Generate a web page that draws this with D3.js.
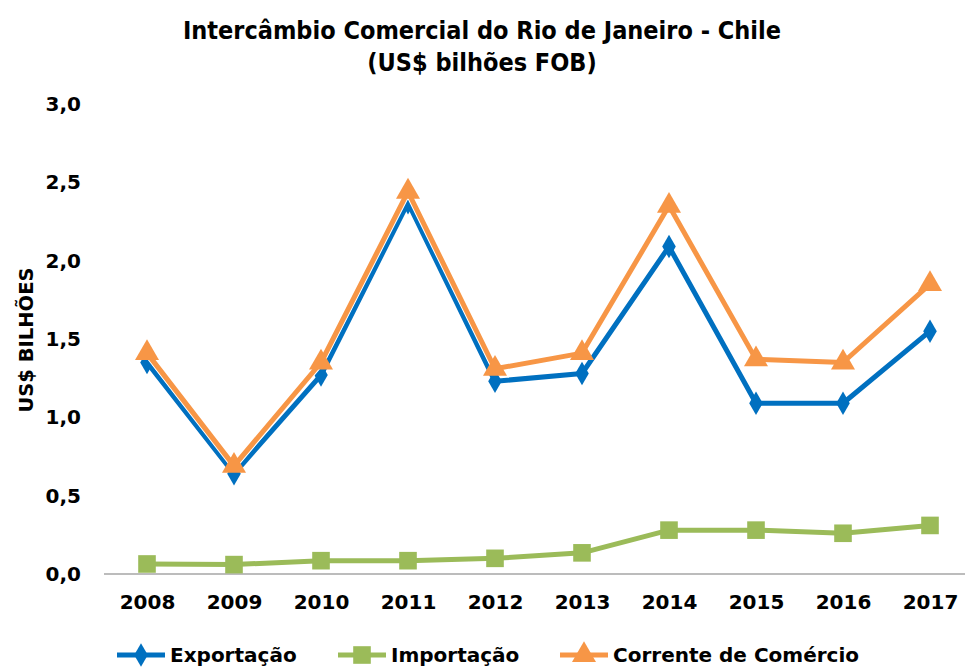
<!DOCTYPE html>
<html>
<head>
<meta charset="utf-8">
<script src="https://cdn.jsdelivr.net/npm/d3@7"></script>
<style>
  body { margin: 0; background: #fff; }
  text { font-family: "DejaVu Sans", Verdana, sans-serif; font-weight: bold; fill: #000; }
</style>
</head>
<body>
<div id="chart"></div>
<script>
const width = 965, height = 668

// data
const years = ["2008", "2009", "2010", "2011", "2012", "2013", "2014", "2015", "2016", "2017"]
const exportacao = [1.35, 0.64, 1.27, 2.37, 1.23, 1.28, 2.09, 1.09, 1.09, 1.55]
const importacao = [0.064, 0.06, 0.085, 0.085, 0.10, 0.135, 0.28, 0.28, 0.26, 0.31]
const corrente = [1.41, 0.69, 1.35, 2.44, 1.31, 1.41, 2.35, 1.37, 1.35, 1.85]
const y_ticks = [0, 0.5, 1.0, 1.5, 2.0, 2.5, 3.0]

const series = [
    {name: "Exportação", values: exportacao, color: "#0070C0", symbol: d3.symbolDiamond, size: 160, legend_x: 117},
    {name: "Importação", values: importacao, color: "#9BBB59", symbol: d3.symbolSquare, size: 310, legend_x: 338},
    {name: "Corrente de Comércio", values: corrente, color: "#F79646", symbol: d3.symbolTriangle, size: 250, legend_x: 560},
]

const svg = d3.select("#chart").append("svg")
    .attr("width", width)
    .attr("height", height)

const x = d3.scalePoint().domain(years).range([147, 930])
const y = d3.scaleLinear().domain([0, 3]).range([574, 104])

// title
const title_font = "'DejaVu Sans Condensed', 'DejaVu Sans', sans-serif"
svg.append("text")
    .attr("x", 482).attr("y", 39)
    .attr("text-anchor", "middle")
    .style("font-family", title_font)
    .style("font-size", "25px")
    .text("Intercâmbio Comercial do Rio de Janeiro - Chile")
svg.append("text")
    .attr("x", 482).attr("y", 71)
    .attr("text-anchor", "middle")
    .style("font-family", title_font)
    .style("font-size", "25px")
    .text("(US$ bilhões FOB)")

// y axis (labels only)
const y_axis = svg.append("g")
    .attr("transform", "translate(81,0)")
    .call(d3.axisLeft(y).tickValues(y_ticks).tickSize(0).tickPadding(0)
        .tickFormat(d => d3.format(".1f")(d).replace(".", ",")))
y_axis.select(".domain").remove()
y_axis.selectAll("text")
    .style("font-size", "20px")
    .style("font-family", "'DejaVu Sans', sans-serif")
    .attr("fill", "#000")

svg.append("text")
    .attr("transform", "translate(26,340) rotate(-90)")
    .attr("text-anchor", "middle")
    .attr("dy", "0.35em")
    .style("font-size", "19.5px")
    .text("US$ BILHÕES")

// x axis
const x_axis = svg.append("g")
    .attr("transform", "translate(0,574)")
    .call(d3.axisBottom(x).tickSize(0).tickPadding(21))
x_axis.select(".domain").remove()
x_axis.selectAll("text")
    .style("font-size", "20px")
    .style("font-family", "'DejaVu Sans', sans-serif")
    .attr("fill", "#000")
svg.append("line")
    .attr("x1", 104).attr("x2", 965)
    .attr("y1", y(0)).attr("y2", y(0))
    .attr("stroke", "#a6a6a6")
    .attr("stroke-width", 1.5)

// lines + markers
const line = d3.line()
    .x((d, i) => x(years[i]))
    .y(d => y(d))

series.forEach(s => {
    const g = svg.append("g")
    g.append("path")
        .attr("d", line(s.values))
        .attr("fill", "none")
        .attr("stroke", "#fff")
        .attr("stroke-width", 7)
        .attr("stroke-linejoin", "round")
    g.append("path")
        .attr("d", line(s.values))
        .attr("fill", "none")
        .attr("stroke", s.color)
        .attr("stroke-width", 5)
        .attr("stroke-linejoin", "round")
    g.selectAll("path.marker")
        .data(s.values)
        .enter()
        .append("path")
        .attr("class", "marker")
        .attr("d", d3.symbol().type(s.symbol).size(s.size))
        .attr("transform", (d, i) => "translate(" + x(years[i]) + "," + y(d) + ")")
        .attr("fill", s.color)
})

// legend
const legend = svg.append("g").attr("transform", "translate(0,655)")
series.forEach(s => {
    const lg = legend.append("g").attr("transform", "translate(" + s.legend_x + ",0)")
    lg.append("line")
        .attr("x1", 0).attr("x2", 48)
        .attr("stroke", s.color)
        .attr("stroke-width", 5)
    lg.append("path")
        .attr("d", d3.symbol().type(s.symbol).size(s.size))
        .attr("transform", "translate(24,0)")
        .attr("fill", s.color)
    lg.append("text")
        .attr("x", 53)
        .attr("dy", "0.36em")
        .style("font-size", "20px")
        .text(s.name)
})
</script>
</body>
</html>
